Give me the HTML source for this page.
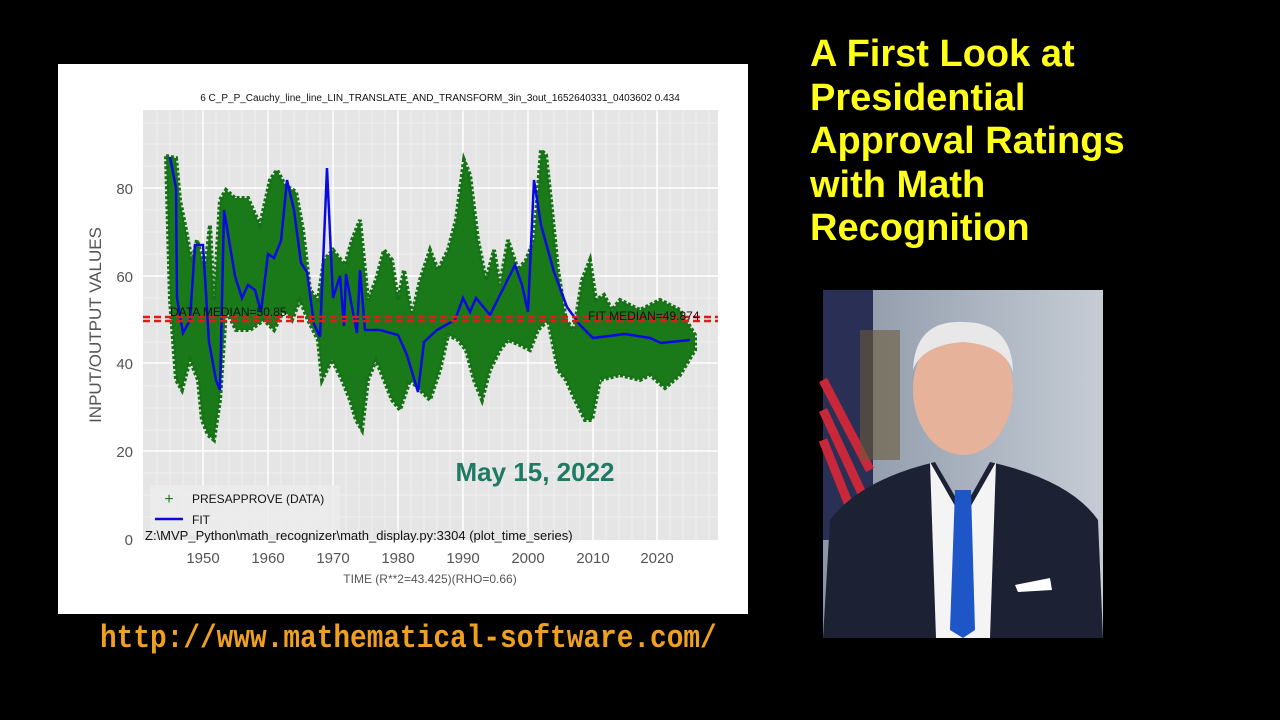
<!DOCTYPE html>
<html><head><meta charset="utf-8"><style>
html,body{margin:0;padding:0;background:#000;width:1280px;height:720px;overflow:hidden}
.t{position:absolute;left:810px;top:33px;color:#ffff1a;font:bold 38px/43.5px "Liberation Sans",sans-serif}
.url{position:absolute;left:100px;top:620px;color:#f0a020;font:bold 32px "Liberation Mono",monospace;transform-origin:0 0;transform:scaleX(0.868);white-space:nowrap}
</style></head><body>
<svg width="1280" height="720" style="position:absolute;left:0;top:0" font-family="Liberation Sans, sans-serif">
<rect x="58" y="64" width="690" height="550" fill="#fff"/>
<rect x="143" y="110" width="575" height="430" fill="#e5e5e5"/>
<g stroke="#f2f2f2" stroke-width="0.7">
<path d="M157 110V540M170 110V540M183 110V540M196 110V540M216 110V540M229 110V540M242 110V540M255 110V540M281 110V540M294 110V540M307 110V540M320 110V540M346 110V540M359 110V540M372 110V540M385 110V540M411 110V540M424 110V540M437 110V540M450 110V540M476 110V540M489 110V540M502 110V540M515 110V540M541 110V540M554 110V540M567 110V540M580 110V540M606 110V540M619 110V540M632 110V540M645 110V540M670 110V540M683 110V540M696 110V540M709 110V540"/>
<path d="M143 123H718M143 144H718M143 166H718M143 210H718M143 232H718M143 254H718M143 298H718M143 320H718M143 342H718M143 386H718M143 408H718M143 430H718M143 473H718M143 495H718M143 517H718"/>
</g>
<g stroke="#fff" stroke-width="1.5">
<path d="M203 110V540M268 110V540M333 110V540M398 110V540M463 110V540M528 110V540M593 110V540M657 110V540"/>
<path d="M143 188H718M143 276H718M143 363H718M143 451H718"/>
</g>
<text x="440" y="101" font-size="10" text-anchor="middle" fill="#111">6 C_P_P_Cauchy_line_line_LIN_TRANSLATE_AND_TRANSFORM_3in_3out_1652640331_0403602 0.434</text>
<g font-size="15" fill="#555" text-anchor="end">
<text x="133" y="194">80</text><text x="133" y="282">60</text><text x="133" y="369">40</text><text x="133" y="457">20</text><text x="133" y="545">0</text></g>
<g font-size="15" fill="#555" text-anchor="middle">
<text x="203" y="563">1950</text><text x="268" y="563">1960</text><text x="333" y="563">1970</text><text x="398" y="563">1980</text><text x="463" y="563">1990</text><text x="528" y="563">2000</text><text x="593" y="563">2010</text><text x="657" y="563">2020</text></g>
<text x="430" y="583" font-size="12" fill="#555" text-anchor="middle">TIME (R**2=43.425)(RHO=0.66)</text>
<text transform="translate(101,325) rotate(-90)" font-size="17" fill="#555" text-anchor="middle">INPUT/OUTPUT VALUES</text>
<polygon fill="#1a7a1a" stroke="#167016" stroke-width="4" stroke-dasharray="3 2" points="166,156 176,158 180,200 186,230 192,262 197,240 205,270 210,225 214,300 220,200 226,190 235,198 248,198 260,225 270,180 277,170 285,185 296,192 303,230 310,290 318,300 324,260 333,250 345,265 352,240 360,220 368,300 376,280 384,250 392,260 398,300 404,270 412,315 420,280 430,250 438,270 448,250 456,220 464,160 470,175 478,240 486,280 494,250 500,285 508,240 518,270 526,260 534,240 541,150 546,155 552,210 558,270 566,320 574,330 582,280 590,260 596,300 604,295 612,310 620,300 630,305 640,310 660,300 670,305 680,310 695,335 695,350 680,375 665,388 650,375 640,380 620,375 600,380 592,420 585,420 575,400 566,380 558,370 548,320 538,330 530,350 520,345 508,340 500,350 490,370 482,400 474,380 466,350 458,340 448,335 440,370 430,400 420,390 410,380 400,410 392,400 384,380 376,360 368,380 362,430 356,420 350,400 342,380 332,360 322,380 318,340 308,320 300,300 292,320 284,310 274,330 264,320 250,330 236,330 226,310 220,400 214,440 208,435 202,420 198,380 190,360 182,390 176,380 170,300"/>
<polyline fill="none" stroke="#0a0ae0" stroke-width="2.5" points="170,157 176,188 177,298 183,333 190,320 195,245 203,245 209,342 216,380 220,390 224,210 229,240 235,276 242,298 248,285 255,290 261,312 268,254 274,258 281,241 287,180 294,210 301,263 307,272 314,324 320,337 327,168 333,298 340,276 344,326 346,274 351,302 357,333 360,270 365,330 380,330 398,335 407,355 418,392 424,342 437,330 455,320 463,298 470,312 476,298 490,315 503,289 515,265 522,285 528,312 534,180 541,225 554,272 567,307 580,325 593,338 625,334 650,338 661,343 690,340"/>
<g stroke="#dd1c1c" stroke-width="2.5" stroke-dasharray="7 4"><path d="M143 317H718M143 321H718"/></g>
<text x="170" y="316" font-size="12" fill="#111">DATA MEDIAN=50.85</text>
<text x="588" y="320" font-size="12" fill="#111">FIT MEDIAN=49.874</text>
<text x="535" y="481" font-size="26" font-weight="bold" fill="#1e7a62" text-anchor="middle">May 15, 2022</text>
<rect x="150" y="485" width="190" height="50" fill="#ececec" opacity="0.85"/>
<text x="169" y="504" font-size="16" fill="#1a7a1a" text-anchor="middle">+</text>
<text x="192" y="503" font-size="12" fill="#111">PRESAPPROVE (DATA)</text>
<path d="M155 519H183" stroke="#0a0ae0" stroke-width="2.5"/>
<text x="192" y="524" font-size="12" fill="#111">FIT</text>
<text x="145" y="540" font-size="13" fill="#111">Z:\MVP_Python\math_recognizer\math_display.py:3304 (plot_time_series)</text>
<defs><linearGradient id="bg" x1="0" x2="1"><stop offset="0" stop-color="#8a95a5"/><stop offset="1" stop-color="#c5ccd5"/></linearGradient></defs>
<rect x="823" y="290" width="280" height="348" fill="url(#bg)"/>
<rect x="823" y="290" width="50" height="250" fill="#2a2f55"/>
<g stroke="#c8283a" stroke-width="9"><path d="M823 380L870 470M823 410L865 500M823 440L855 520"/></g>
<rect x="860" y="330" width="40" height="130" fill="#6b5a3a" opacity="0.6"/>
<ellipse cx="963" cy="390" rx="50" ry="65" fill="#e6b39a"/>
<path d="M913 370Q915 320 963 322Q1012 322 1013 372Q1005 345 963 342Q922 345 913 370Z" fill="#e8e8e8"/>
<path d="M823 638L830 520Q860 480 935 462L963 510L990 462Q1070 480 1098 520L1103 638Z" fill="#1c2233"/>
<path d="M930 462L963 520L996 462L990 638H936Z" fill="#f4f4f4"/>
<path d="M955 490L971 490L975 630L963 638L950 630Z" fill="#1e56c8"/>
<path d="M1015 585L1050 578L1052 590L1018 592Z" fill="#fff"/>
</svg>
<div class="t">A First Look at<br>Presidential<br>Approval Ratings<br>with Math<br>Recognition</div>
<div class="url">http://www.mathematical-software.com/</div>
</body></html>
